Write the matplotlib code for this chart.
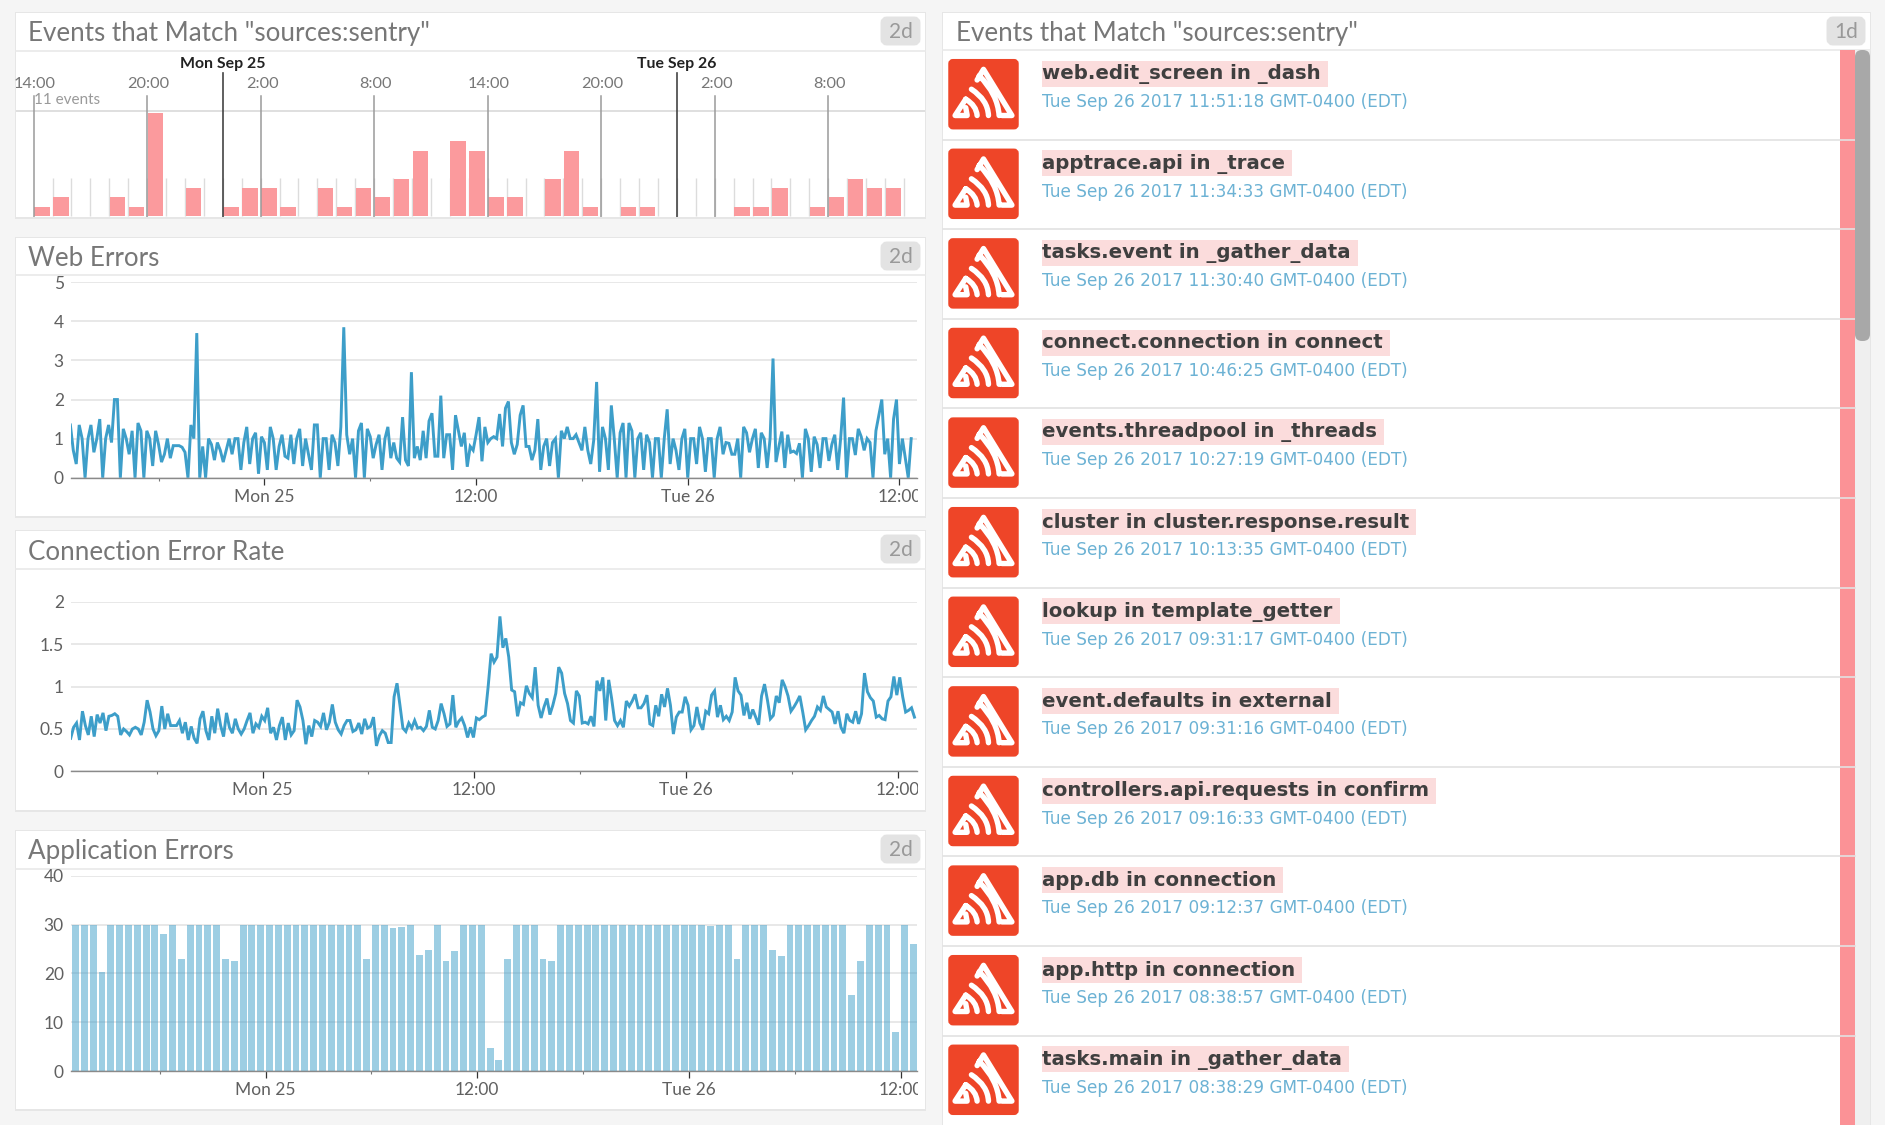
import matplotlib
matplotlib.use("Agg")
import matplotlib.pyplot as plt
import numpy as np
from matplotlib.patches import Rectangle, FancyBboxPatch, PathPatch
from matplotlib.path import Path
from matplotlib.transforms import Bbox, blended_transform_factory

W, H = 1885, 1125
UI_FONT = ["Lato", "DejaVu Sans"]
ROW_FONT = ["DejaVu Sans"]

# ---------- data ----------
event_counts = [1, 2, 0, 0, 2, 1, 11, 0, 3, 0, 1, 3, 3, 1, 0, 3, 1, 3, 2, 4, 7, 0, 8, 7, 2, 2, 0, 4, 7, 1, 0,
                1, 1, 0, 0, 0, 0, 1, 1, 3, 0, 1, 2, 4, 3, 3]
event_hour_labels = ["14:00", "20:00", "2:00", "8:00", "14:00", "20:00", "2:00", "8:00"]
event_day_labels = ["Mon Sep 25", "Tue Sep 26"]

web_errors = [
    1.35, .7, .35, 1.35, 1.0, 0, 1.0, 1.35, .65, 1.0, 1.5, 0, 1.0, 1.35, .9, 2.0, 2.0, 0, 1.25, 1.0,
    .6, 1.2, 0, 1.4, 1.2, 0, 1.2, 1.0, .3, 1.2, .85, .4, .6, 1.0, .5, .82, .82, .82, .78, .65,
    0, 1.35, 1.0, 3.7, 0, .8, 0, 1.0, .85, .45, .9, .7, .4, .7, 1.0, .6, 1.0, 1.0, .2, .9,
    1.3, .35, 1.0, 1.15, .1, 1.05, .9, .2, 1.3, 1.0, .2, .8, 1.1, .55, .5, 1.1, .35, 1.0, 1.25, .3,
    1.0, .6, .2, 1.35, 1.35, 0, 1.0, 1.0, .2, 1.1, .9, .3, 1.3, 3.85, 1.1, .6, 1.0, 0, 1.2, 1.4,
    0, 1.25, 1.05, .5, .85, 1.1, .2, 1.0, 1.3, .5, .9, .5, .4, 1.55, .45, .3, 2.7, .5, .8, .45,
    1.2, .5, 1.45, 1.65, .55, .55, 2.1, .5, 1.1, 1.1, .2, 1.6, 1.2, .8, 1.15, .28, .8, .7, 1.1, 1.55,
    .42, 1.3, .9, 1.0, 1.05, 1.0, 1.63, .8, 1.78, 1.95, .9, .6, .85, 1.6, 1.85, .8, .8, .45, .7, 1.5,
    .2, .8, 1.0, .3, .9, 1.0, 0, 1.2, 1.0, 1.3, 1.0, 1.0, 1.1, .9, .7, 1.3, .7, .35, .95, 2.45,
    .15, 1.3, 1.0, .2, 1.85, 1.0, 0, 1.15, 1.4, 0, 1.4, 1.2, 0, 1.0, 1.15, .2, 1.1, .9, 0, 1.0,
    1.0, 0, 1.0, 1.75, .35, 1.0, .7, .2, 1.0, 1.25, 0, 1.0, 1.0, .35, 1.3, 1.0, .15, 1.0, 1.0, 0,
    1.0, 1.3, .6, .9, .88, .6, .6, 1.0, 0, 1.3, 1.15, .65, 1.0, 1.25, .25, 1.15, 1.0, .25, 1.0, 3.05,
    .4, .8, 1.18, .25, 1.1, .65, .68, .62, .88, 0, 1.25, 1.0, .15, 1.05, .85, .25, 1.0, 1.0, .43, .85,
    1.1, .2, 1.0, 2.05, 0, 1.0, 1.0, .58, 1.25, 1.05, .7, 1.0, .9, 0, 1.2, 1.6, 2.0, .6, 1.0, 0,
    1.5, 2.0, .35, 1.0, .5, 0, 1.0]

connection_rate = [
    .39, .52, .57, .37, .71, .54, .43, .65, .41, .67, .57, .69, .48, .65, .66, .68, .65, .43, .5, .47,
    .43, .5, .52, .5, .43, .58, .84, .7, .5, .42, .48, .77, .5, .68, .54, .54, .54, .6, .45, .58,
    .37, .53, .39, .33, .62, .71, .48, .37, .65, .45, .74, .54, .41, .69, .52, .45, .62, .5, .44, .5,
    .6, .69, .45, .56, .52, .65, .6, .75, .45, .52, .37, .54, .64, .37, .57, .43, .48, .84, .76, .6,
    .32, .54, .41, .6, .58, .53, .69, .49, .58, .79, .58, .49, .44, .54, .6, .6, .47, .49, .57, .44,
    .62, .51, .53, .64, .30, .42, .48, .45, .34, .34, .88, 1.04, .78, .51, .47, .57, .51, .6, .51, .52,
    .48, .53, .72, .52, .5, .6, .8, .68, .53, .56, .9, .52, .59, .63, .54, .4, .52, .4, .63, .61,
    .64, .66, 1.0, 1.39, 1.29, 1.35, 1.83, 1.46, 1.57, 1.35, .96, .94, .65, .81, .79, 1.01, .92, .87, 1.23, .78,
    .63, .76, .86, .67, .78, .92, 1.23, 1.16, .92, .8, .6, .57, .95, .89, .57, .58, .56, .65, .53, 1.07,
    .95, 1.11, .6, 1.08, .86, .6, .54, .6, .52, .83, .77, .83, .91, .75, .75, .8, .9, .56, .54, .78,
    .65, .91, .76, .98, .78, .44, .64, .7, .7, .88, .78, .49, .54, .76, .57, .49, .71, .68, .9, .95,
    .64, .78, .61, .65, .6, .7, 1.11, .95, .9, .66, .81, .62, .73, .64, .55, .89, 1.03, .84, .62, .66,
    .89, .81, 1.08, 1.0, .89, .71, .76, .82, .89, .7, .49, .54, .6, .65, .76, .72, .89, .76, .73, .7,
    .56, .71, .52, .45, .68, .6, .58, .71, .56, .68, 1.16, .94, .87, .83, .64, .66, .62, .61, .83, .88,
    1.12, .9, 1.11, .88, .7, .72, .75, .64]

application_errors = [
    30, 30, 30, 20.3, 30, 30, 30, 30, 30, 30, 28, 30, 23, 30, 30, 30, 30, 23, 22.6, 30,
    30, 30, 30, 30, 30, 30, 30, 30, 30, 30, 30, 30, 30, 23, 30, 30, 29.2, 29.5, 30, 23.8,
    24.8, 30, 22.6, 24.5, 30, 30, 30, 4.7, 2.2, 23, 30, 30, 30, 23, 22.6, 30, 30, 30, 30, 30,
    30, 30, 30, 30, 30, 30, 30, 30, 30, 30, 30, 30, 29.6, 30, 30, 23, 30, 30, 30, 24.8,
    23.6, 30, 30, 30, 30, 30, 30, 30, 15.5, 22.6, 30, 30, 30, 8, 30, 26]

time_ticks = [0, 12, 24, 36]
time_labels = ["Mon 25", "12:00", "Tue 26", "12:00"]
time_minor_ticks = [-6, 6, 18, 30]

web_y_ticks = [0, 1, 2, 3, 4, 5]
rate_y_ticks = [0, 0.5, 1, 1.5, 2]
rate_y_labels = ["0", "0.5", "1", "1.5", "2"]
app_y_ticks = [0, 10, 20, 30, 40]

event_titles = ["web.edit_screen in _dash", "apptrace.api in _trace", "tasks.event in _gather_data",
                "connect.connection in connect", "events.threadpool in _threads",
                "cluster in cluster.response.result", "lookup in template_getter",
                "event.defaults in external", "controllers.api.requests in confirm",
                "app.db in connection", "app.http in connection", "tasks.main in _gather_data"]
event_times = ["11:51:18", "11:34:33", "11:30:40", "10:46:25", "10:27:19", "10:13:35",
               "09:31:17", "09:31:16", "09:16:33", "09:12:37", "08:38:57", "08:38:29"]

# ---------- colours ----------
BG = "#f5f5f5"
BLUE = "#3d9ec9"
RED = "#fb9a9d"
TITLE = "#777777"
TICK = "#606060"

fig = plt.figure(figsize=(W / 100, H / 100), dpi=100, facecolor=BG)

# page overlay in pixel coordinates
page = fig.add_axes([0, 0, 1, 1], zorder=0)
page.set_xlim(0, W)
page.set_ylim(H, 0)
page.axis("off")


def px_axes(x0, y0, x1, y1):
    ax = fig.add_axes([x0 / W, 1 - y1 / H, (x1 - x0) / W, (y1 - y0) / H], zorder=2)
    ax.patch.set_alpha(0)
    return ax


def panel(x0, y0, x1, y1, sep, title, badge, badge_x, title_x):
    page.add_patch(Rectangle((x0 - 1, y0 - 1), x1 - x0 + 2, y1 - y0 + 3, fc="#e6e6e6", ec="none"))
    page.add_patch(Rectangle((x0, y0), x1 - x0, y1 - y0, fc="white", ec="none"))
    page.plot([x0, x1], [sep, sep], color="#e9e9e9", lw=1.2)
    page.text(title_x, (y0 + sep) / 2 + 2, title, fontsize=18.7, color=TITLE, family=UI_FONT,
              va="center", ha="left")
    page.add_patch(FancyBboxPatch((badge_x[0] + 3, y0 + 7), badge_x[1] - badge_x[0] - 6, 22,
                                  boxstyle="round,pad=0,rounding_size=3", fc="#e3e3e3", ec="#e3e3e3", lw=5))
    page.text(sum(badge_x) / 2, y0 + 19, badge, fontsize=15, color="#999999", family=UI_FONT,
              ha="center", va="center")


panel(16, 13, 925, 217, 51, 'Events that Match "sources:sentry"', "2d", (881, 920), 28)
panel(16, 238, 925, 516, 275, "Web Errors", "2d", (881, 920), 28)
panel(16, 531, 925, 810, 569, "Connection Error Rate", "2d", (881, 920), 28)
panel(16, 831, 925, 1109, 869, "Application Errors", "2d", (881, 920), 28)
panel(943, 13, 1870, 1125, 50, 'Events that Match "sources:sentry"', "1d", (1827, 1865), 956)

# ---------- event timeline ----------
ax = px_axes(16, 51, 925, 217)
hour_px, hour0 = 18.92, 33.6
ax.set_xlim((16 - hour0) / hour_px, (925 - hour0) / hour_px)
ax.set_ylim(-1 / 9.33, 165 / 9.33)
ax.axis("off")
trans = blended_transform_factory(ax.transData, ax.transAxes)


def frac(py):
    return (217 - py) / (217 - 51)


n_slots = len(event_counts)
ax.vlines(np.arange(1, n_slots + 1), 0, 38 / 9.33, color="#dcdcdc", lw=1, zorder=1)
ax.bar(np.arange(n_slots) + 0.03, event_counts, width=0.82, align="edge", color=RED, zorder=2)
ax.plot([ax.get_xlim()[0], ax.get_xlim()[1]], [frac(111)] * 2, transform=ax.get_xaxis_transform(),
        color="#d6d6d6", lw=1.1, zorder=1)
hour_pos = np.arange(len(event_hour_labels)) * 6
day_pos = [10, 34]
label_shift = 0.08
for h, lab in zip(hour_pos, event_hour_labels):
    ax.plot([h, h], [frac(96), frac(217)], transform=trans, color="#9a9a9a", lw=1.1, zorder=3)
    ax.text(h + label_shift, frac(84), lab, transform=trans, fontsize=11.7, color="#777777",
            family=UI_FONT, ha="center", va="center", zorder=4)
for d, lab in zip(day_pos, event_day_labels):
    ax.plot([d, d], [frac(73), frac(217)], transform=trans, color="#444444", lw=1.2, zorder=3)
    ax.text(d, frac(64), lab, transform=trans, fontsize=11.4, fontweight="bold", color="#222222",
            family=UI_FONT, ha="center", va="center", zorder=4)
ax.text(0, frac(99.5), "11 events", transform=trans, fontsize=11, color="#9a9a9a", family=UI_FONT,
        ha="left", va="center", zorder=4)


# ---------- time series ----------
def style_series(ax, rect, zero_px, yticks, ylabels, ylim, label_pad=5):
    x0, y0, x1, y1 = rect
    ax.set_xlim((x0 - zero_px) / 17.64, (x1 - zero_px) / 17.64)
    ax.set_ylim(*ylim)
    for s in ("top", "left", "right"):
        ax.spines[s].set_visible(False)
    ax.spines["bottom"].set_color("#8a8a8a")
    ax.spines["bottom"].set_linewidth(1.0)
    ax.set_yticks(yticks, ylabels, fontsize=12.5, color=TICK, family=UI_FONT)
    ax.tick_params(axis="y", length=0, pad=label_pad)
    ax.set_xticks(time_ticks, time_labels, fontsize=12.5, color=TICK, family=UI_FONT)
    ax.set_xticks(time_minor_ticks, minor=True)
    ax.tick_params(axis="x", which="major", length=5, width=0.9, color="#333333", pad=3)
    ax.tick_params(axis="x", which="minor", length=2, width=0.8, color="#777777")
    ax.grid(axis="y", color="#e4e4e4", lw=1.2, zorder=0)
    ax.set_axisbelow(True)
    clip = Bbox([[0, 0], [x1 + 1, H]])
    for lab in ax.get_xticklabels():
        lab.set_clip_box(clip)
        lab.set_clip_on(True)


rect = (70.7, 282.3, 917, 477.7)
ax = px_axes(*rect)
style_series(ax, rect, 264.4, web_y_ticks, [str(v) for v in web_y_ticks], (0, 5))
ax.plot(-11 + np.arange(len(web_errors)) / 6, web_errors, color=BLUE, lw=2.1, solid_joinstyle="miter")

rect = (70.7, 602, 917, 771.3)
ax = px_axes(*rect)
style_series(ax, rect, 262.6, rate_y_ticks, rate_y_labels, (0, 2))
ax.plot(-10.88 + np.arange(len(connection_rate)) / 6, connection_rate, color=BLUE, lw=2.1, solid_joinstyle="miter")

rect = (70.7, 875.7, 917, 1071)
ax = px_axes(*rect)
style_series(ax, rect, 265.6, app_y_ticks, [str(v) for v in app_y_ticks], (0, 40))
ax.bar(-10.97 + np.arange(len(application_errors)) / 2, application_errors, width=0.39, align="edge",
       color=BLUE, alpha=0.5, lw=0, zorder=2)


# ---------- event stream ----------
def sentry_icon(x, y, s):
    page.add_patch(FancyBboxPatch((x + 2, y + 2), s - 4, s - 4, boxstyle="round,pad=0,rounding_size=3",
                                  fc="#ee4528", ec="#ee4528", lw=2.5, zorder=3))
    P = lambda u, v: (x + u * s, y + v * s)
    M, L, Q = Path.MOVETO, Path.LINETO, Path.CURVE3
    verts = [P(.76, .80), P(.90, .80), P(.50, .15), P(.41, .30),
             P(.44, .24), P(.70, .50), P(.72, .80),
             P(.33, .43), P(.56, .58), P(.57, .80),
             P(.25, .57), P(.40, .66), P(.41, .80),
             P(.25, .57), P(.10, .80), P(.27, .80), P(.25, .69)]
    codes = [M, L, L, L, M, Q, Q, M, Q, Q, M, Q, Q, M, L, L, L]
    page.add_patch(PathPatch(Path(verts, codes), fc="none", ec="white", lw=3.9, zorder=4, capstyle="round",
                             joinstyle="round"))


row_h = 89.6
page.add_patch(Rectangle((1855, 50), 15, H - 50, fc="#efefef", ec="none", zorder=3))
page.add_patch(Rectangle((1839.5, 50), 15.5, H - 50, fc="#fb9296", ec="none", zorder=3))
page.add_patch(FancyBboxPatch((1855, 50), 15, 291, boxstyle="round,pad=0,rounding_size=7", fc="#a8a8a8",
                              ec="none", zorder=4))
fig.canvas.draw()
renderer = fig.canvas.get_renderer()
for i, (t, ts) in enumerate(zip(event_titles, event_times)):
    top = 50 + row_h * i
    sentry_icon(948, top + 8.7, 71)
    if i:
        page.plot([943, 1855], [top, top], color="#e2e2e2", lw=1.2, zorder=3.5)
    txt = page.text(1042, top + 24, t, fontsize=14.2, fontweight="bold", color="#3f3f3f",
                    family=ROW_FONT, ha="left", va="center", zorder=3)
    w = txt.get_window_extent(renderer).width
    page.add_patch(Rectangle((1041.7, top + 10.7), w + 7.5, 26, fc="#fbdcdc", ec="none", zorder=2))
    page.text(1042, top + 52, f"Tue Sep 26 2017 {ts} GMT-0400 (EDT)", fontsize=12.2, color="#6cb2d4",
              family=ROW_FONT, ha="left", va="center", zorder=3)

fig.savefig("out.png", dpi=100, facecolor=BG)
